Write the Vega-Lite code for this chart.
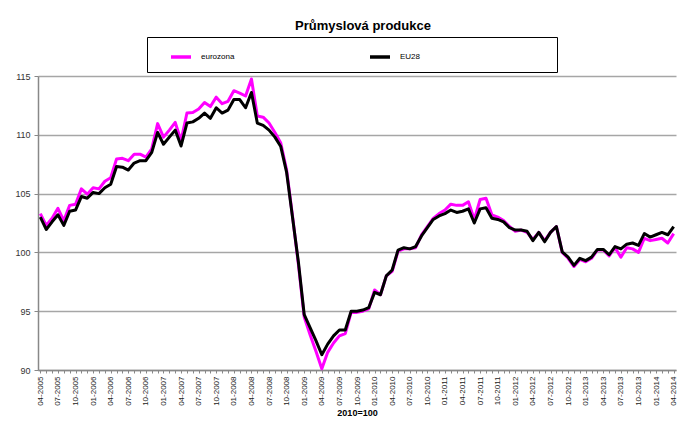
{
  "$schema": "https://vega.github.io/schema/vega-lite/v6.json",
  "width": 638,
  "height": 294,
  "autosize": "none",
  "padding": {"left": 38, "top": 76, "right": 3, "bottom": 53},
  "background": "white",
  "title": {"text": "Průmyslová produkce", "frame": "group", "anchor": "middle", "offset": 4, "dx": 6, "fontSize": 13, "font": "Liberation Sans", "fontWeight": "bold", "color": "#000"},
  "data": {"values": [
    {"m":"04-2005","s":"eurozona","v":103.3},{"m":"05-2005","s":"eurozona","v":102.3},{"m":"06-2005","s":"eurozona","v":102.9},{"m":"07-2005","s":"eurozona","v":103.75},{"m":"08-2005","s":"eurozona","v":102.7},{"m":"09-2005","s":"eurozona","v":104.0},{"m":"10-2005","s":"eurozona","v":104.1},{"m":"11-2005","s":"eurozona","v":105.4},{"m":"12-2005","s":"eurozona","v":104.95},
    {"m":"01-2006","s":"eurozona","v":105.5},{"m":"02-2006","s":"eurozona","v":105.4},{"m":"03-2006","s":"eurozona","v":106.05},{"m":"04-2006","s":"eurozona","v":106.35},{"m":"05-2006","s":"eurozona","v":107.95},{"m":"06-2006","s":"eurozona","v":108.0},{"m":"07-2006","s":"eurozona","v":107.8},{"m":"08-2006","s":"eurozona","v":108.35},{"m":"09-2006","s":"eurozona","v":108.35},{"m":"10-2006","s":"eurozona","v":108.1},{"m":"11-2006","s":"eurozona","v":108.8},{"m":"12-2006","s":"eurozona","v":110.95},
    {"m":"01-2007","s":"eurozona","v":109.8},{"m":"02-2007","s":"eurozona","v":110.4},{"m":"03-2007","s":"eurozona","v":111.05},{"m":"04-2007","s":"eurozona","v":109.5},{"m":"05-2007","s":"eurozona","v":111.85},{"m":"06-2007","s":"eurozona","v":111.9},{"m":"07-2007","s":"eurozona","v":112.2},{"m":"08-2007","s":"eurozona","v":112.75},{"m":"09-2007","s":"eurozona","v":112.4},{"m":"10-2007","s":"eurozona","v":113.2},{"m":"11-2007","s":"eurozona","v":112.65},{"m":"12-2007","s":"eurozona","v":112.85},
    {"m":"01-2008","s":"eurozona","v":113.75},{"m":"02-2008","s":"eurozona","v":113.55},{"m":"03-2008","s":"eurozona","v":113.3},{"m":"04-2008","s":"eurozona","v":114.75},{"m":"05-2008","s":"eurozona","v":111.6},{"m":"06-2008","s":"eurozona","v":111.5},{"m":"07-2008","s":"eurozona","v":111.0},{"m":"08-2008","s":"eurozona","v":110.2},{"m":"09-2008","s":"eurozona","v":109.3},{"m":"10-2008","s":"eurozona","v":107.0},{"m":"11-2008","s":"eurozona","v":103.1},{"m":"12-2008","s":"eurozona","v":99.0},
    {"m":"01-2009","s":"eurozona","v":94.5},{"m":"02-2009","s":"eurozona","v":93.0},{"m":"03-2009","s":"eurozona","v":91.6},{"m":"04-2009","s":"eurozona","v":90.1},{"m":"05-2009","s":"eurozona","v":91.5},{"m":"06-2009","s":"eurozona","v":92.3},{"m":"07-2009","s":"eurozona","v":92.9},{"m":"08-2009","s":"eurozona","v":93.1},{"m":"09-2009","s":"eurozona","v":94.9},{"m":"10-2009","s":"eurozona","v":94.9},{"m":"11-2009","s":"eurozona","v":95.0},{"m":"12-2009","s":"eurozona","v":95.2},
    {"m":"01-2010","s":"eurozona","v":96.8},{"m":"02-2010","s":"eurozona","v":96.4},{"m":"03-2010","s":"eurozona","v":98.0},{"m":"04-2010","s":"eurozona","v":98.4},{"m":"05-2010","s":"eurozona","v":100.1},{"m":"06-2010","s":"eurozona","v":100.3},{"m":"07-2010","s":"eurozona","v":100.3},{"m":"08-2010","s":"eurozona","v":100.4},{"m":"09-2010","s":"eurozona","v":101.5},{"m":"10-2010","s":"eurozona","v":102.2},{"m":"11-2010","s":"eurozona","v":102.9},{"m":"12-2010","s":"eurozona","v":103.3},
    {"m":"01-2011","s":"eurozona","v":103.6},{"m":"02-2011","s":"eurozona","v":104.1},{"m":"03-2011","s":"eurozona","v":104.0},{"m":"04-2011","s":"eurozona","v":104.0},{"m":"05-2011","s":"eurozona","v":104.3},{"m":"06-2011","s":"eurozona","v":102.8},{"m":"07-2011","s":"eurozona","v":104.5},{"m":"08-2011","s":"eurozona","v":104.6},{"m":"09-2011","s":"eurozona","v":103.2},{"m":"10-2011","s":"eurozona","v":103.0},{"m":"11-2011","s":"eurozona","v":102.7},{"m":"12-2011","s":"eurozona","v":102.2},
    {"m":"01-2012","s":"eurozona","v":101.8},{"m":"02-2012","s":"eurozona","v":101.9},{"m":"03-2012","s":"eurozona","v":101.7},{"m":"04-2012","s":"eurozona","v":101.1},{"m":"05-2012","s":"eurozona","v":101.7},{"m":"06-2012","s":"eurozona","v":101.0},{"m":"07-2012","s":"eurozona","v":101.7},{"m":"08-2012","s":"eurozona","v":102.2},{"m":"09-2012","s":"eurozona","v":100.0},{"m":"10-2012","s":"eurozona","v":99.5},{"m":"11-2012","s":"eurozona","v":98.8},{"m":"12-2012","s":"eurozona","v":99.4},
    {"m":"01-2013","s":"eurozona","v":99.2},{"m":"02-2013","s":"eurozona","v":99.5},{"m":"03-2013","s":"eurozona","v":100.2},{"m":"04-2013","s":"eurozona","v":100.2},{"m":"05-2013","s":"eurozona","v":99.7},{"m":"06-2013","s":"eurozona","v":100.4},{"m":"07-2013","s":"eurozona","v":99.6},{"m":"08-2013","s":"eurozona","v":100.4},{"m":"09-2013","s":"eurozona","v":100.3},{"m":"10-2013","s":"eurozona","v":100.0},{"m":"11-2013","s":"eurozona","v":101.2},{"m":"12-2013","s":"eurozona","v":101.0},
    {"m":"01-2014","s":"eurozona","v":101.1},{"m":"02-2014","s":"eurozona","v":101.2},{"m":"03-2014","s":"eurozona","v":100.8},{"m":"04-2014","s":"eurozona","v":101.6},
    {"m":"04-2005","s":"EU28","v":103.0},{"m":"05-2005","s":"EU28","v":101.95},{"m":"06-2005","s":"EU28","v":102.6},{"m":"07-2005","s":"EU28","v":103.2},{"m":"08-2005","s":"EU28","v":102.3},{"m":"09-2005","s":"EU28","v":103.5},{"m":"10-2005","s":"EU28","v":103.6},{"m":"11-2005","s":"EU28","v":104.75},{"m":"12-2005","s":"EU28","v":104.6},
    {"m":"01-2006","s":"EU28","v":105.1},{"m":"02-2006","s":"EU28","v":105.0},{"m":"03-2006","s":"EU28","v":105.5},{"m":"04-2006","s":"EU28","v":105.8},{"m":"05-2006","s":"EU28","v":107.3},{"m":"06-2006","s":"EU28","v":107.25},{"m":"07-2006","s":"EU28","v":107.0},{"m":"08-2006","s":"EU28","v":107.6},{"m":"09-2006","s":"EU28","v":107.8},{"m":"10-2006","s":"EU28","v":107.8},{"m":"11-2006","s":"EU28","v":108.5},{"m":"12-2006","s":"EU28","v":110.2},
    {"m":"01-2007","s":"EU28","v":109.2},{"m":"02-2007","s":"EU28","v":109.8},{"m":"03-2007","s":"EU28","v":110.4},{"m":"04-2007","s":"EU28","v":109.05},{"m":"05-2007","s":"EU28","v":111.0},{"m":"06-2007","s":"EU28","v":111.1},{"m":"07-2007","s":"EU28","v":111.4},{"m":"08-2007","s":"EU28","v":111.85},{"m":"09-2007","s":"EU28","v":111.4},{"m":"10-2007","s":"EU28","v":112.3},{"m":"11-2007","s":"EU28","v":111.85},{"m":"12-2007","s":"EU28","v":112.1},
    {"m":"01-2008","s":"EU28","v":113.0},{"m":"02-2008","s":"EU28","v":113.0},{"m":"03-2008","s":"EU28","v":112.3},{"m":"04-2008","s":"EU28","v":113.6},{"m":"05-2008","s":"EU28","v":111.0},{"m":"06-2008","s":"EU28","v":110.8},{"m":"07-2008","s":"EU28","v":110.4},{"m":"08-2008","s":"EU28","v":109.8},{"m":"09-2008","s":"EU28","v":109.0},{"m":"10-2008","s":"EU28","v":106.8},{"m":"11-2008","s":"EU28","v":103.0},{"m":"12-2008","s":"EU28","v":99.2},
    {"m":"01-2009","s":"EU28","v":94.7},{"m":"02-2009","s":"EU28","v":93.6},{"m":"03-2009","s":"EU28","v":92.5},{"m":"04-2009","s":"EU28","v":91.3},{"m":"05-2009","s":"EU28","v":92.2},{"m":"06-2009","s":"EU28","v":92.9},{"m":"07-2009","s":"EU28","v":93.4},{"m":"08-2009","s":"EU28","v":93.4},{"m":"09-2009","s":"EU28","v":95.0},{"m":"10-2009","s":"EU28","v":95.0},{"m":"11-2009","s":"EU28","v":95.1},{"m":"12-2009","s":"EU28","v":95.3},
    {"m":"01-2010","s":"EU28","v":96.6},{"m":"02-2010","s":"EU28","v":96.4},{"m":"03-2010","s":"EU28","v":98.0},{"m":"04-2010","s":"EU28","v":98.5},{"m":"05-2010","s":"EU28","v":100.2},{"m":"06-2010","s":"EU28","v":100.4},{"m":"07-2010","s":"EU28","v":100.3},{"m":"08-2010","s":"EU28","v":100.5},{"m":"09-2010","s":"EU28","v":101.4},{"m":"10-2010","s":"EU28","v":102.1},{"m":"11-2010","s":"EU28","v":102.8},{"m":"12-2010","s":"EU28","v":103.1},
    {"m":"01-2011","s":"EU28","v":103.3},{"m":"02-2011","s":"EU28","v":103.6},{"m":"03-2011","s":"EU28","v":103.4},{"m":"04-2011","s":"EU28","v":103.5},{"m":"05-2011","s":"EU28","v":103.7},{"m":"06-2011","s":"EU28","v":102.5},{"m":"07-2011","s":"EU28","v":103.7},{"m":"08-2011","s":"EU28","v":103.8},{"m":"09-2011","s":"EU28","v":102.9},{"m":"10-2011","s":"EU28","v":102.8},{"m":"11-2011","s":"EU28","v":102.6},{"m":"12-2011","s":"EU28","v":102.1},
    {"m":"01-2012","s":"EU28","v":101.9},{"m":"02-2012","s":"EU28","v":101.9},{"m":"03-2012","s":"EU28","v":101.8},{"m":"04-2012","s":"EU28","v":101.0},{"m":"05-2012","s":"EU28","v":101.7},{"m":"06-2012","s":"EU28","v":100.9},{"m":"07-2012","s":"EU28","v":101.7},{"m":"08-2012","s":"EU28","v":102.2},{"m":"09-2012","s":"EU28","v":100.05},{"m":"10-2012","s":"EU28","v":99.6},{"m":"11-2012","s":"EU28","v":98.9},{"m":"12-2012","s":"EU28","v":99.5},
    {"m":"01-2013","s":"EU28","v":99.3},{"m":"02-2013","s":"EU28","v":99.6},{"m":"03-2013","s":"EU28","v":100.25},{"m":"04-2013","s":"EU28","v":100.25},{"m":"05-2013","s":"EU28","v":99.8},{"m":"06-2013","s":"EU28","v":100.5},{"m":"07-2013","s":"EU28","v":100.3},{"m":"08-2013","s":"EU28","v":100.7},{"m":"09-2013","s":"EU28","v":100.8},{"m":"10-2013","s":"EU28","v":100.6},{"m":"11-2013","s":"EU28","v":101.6},{"m":"12-2013","s":"EU28","v":101.3},
    {"m":"01-2014","s":"EU28","v":101.5},{"m":"02-2014","s":"EU28","v":101.7},{"m":"03-2014","s":"EU28","v":101.5},{"m":"04-2014","s":"EU28","v":102.2}
  ]},
  "mark": {"type": "line", "strokeWidth": 3, "strokeJoin": "round", "clip": false},
  "encoding": {
    "x": {
      "field": "m", "type": "ordinal", "sort": null,
      "scale": {"type": "point", "padding": 0.4},
      "axis": {
        "title": "2010=100", "titleFont": "Liberation Sans", "titleFontSize": 9, "titleFontWeight": "bold", "titleColor": "#000", "titlePadding": 3,
        "labelAngle": -90, "labelFont": "Liberation Sans", "labelFontSize": 8, "labelColor": "#222", "labelPadding": 3,
        "labelExpr": "indexof(['01','04','07','10'], substring(datum.value,0,2)) >= 0 ? datum.value : ''",
        "labelOverlap": false,
        "domainColor": "#888", "domainWidth": 1.5, "tickColor": "#888", "tickSize": 3, "tickWidth": 1,
        "grid": false
      }
    },
    "y": {
      "field": "v", "type": "quantitative",
      "scale": {"domain": [90, 115], "nice": false, "zero": false},
      "axis": {
        "title": null, "values": [90, 95, 100, 105, 110, 115],
        "labelFont": "Liberation Sans", "labelFontSize": 9, "labelColor": "#333", "labelPadding": 4,
        "domainColor": "#888", "domainWidth": 1.5, "tickColor": "#888", "tickSize": 4,
        "grid": true, "gridColor": "#a6a6a6", "gridWidth": 1.5
      }
    },
    "color": {
      "field": "s", "type": "nominal",
      "scale": {"domain": ["eurozona", "EU28"], "range": ["#ff00ff", "#000000"]},
      "legend": {
        "title": " ", "titleOrient": "left", "titleFontSize": 8, "titlePadding": 14,
        "orient": "none", "direction": "horizontal", "legendX": 109, "legendY": -39,
        "symbolType": "stroke", "symbolSize": 400, "symbolStrokeWidth": 3.5,
        "labelFont": "Liberation Sans", "labelFontSize": 8, "labelColor": "#000", "labelOffset": 8, "labelLimit": 300,
        "labelExpr": "datum.label == 'EU28' ? 'EU28\u2003\u2003\u2003\u2003\u2003\u2003\u2003\u2003\u2003\u2003\u2003\u2003\u2003\u2003\u2003\u2003\u200b' : datum.label",
        "columnPadding": 128, "padding": 8,
        "strokeColor": "#000", "fillColor": "#fff"
      }
    }
  },
  "config": {"view": {"stroke": null}}
}
